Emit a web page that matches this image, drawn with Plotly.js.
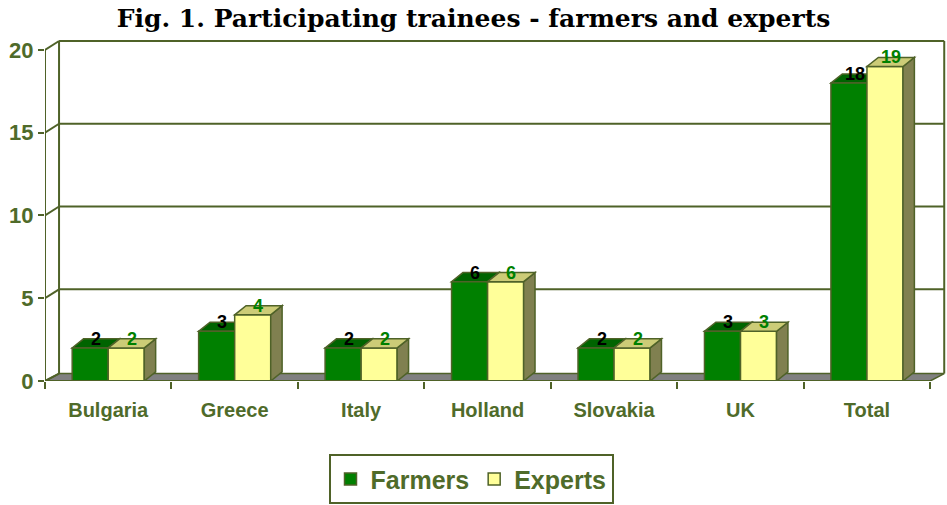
<!DOCTYPE html>
<html><head><meta charset="utf-8">
<script src="https://cdn.plot.ly/plotly-3.0.1.min.js"></script>
<style>html,body{margin:0;padding:0;background:#fff}</style>
</head><body><div id="chart" style="width:947px;height:505px"></div>
<script>
const categories = ['Bulgaria','Greece','Italy','Holland','Slovakia','UK','Total'];
const farmers = [2,3,2,6,2,3,18];
const experts = [2,4,2,6,2,3,19];
const seriesNames = ['Farmers','Experts'];
const yTicks = [0,5,10,15,20];

const OLIVE = '#4F6B2A';
const LINE = '#4F6228';
const SANS = 'Liberation Sans, Arial, sans-serif';
const idx = categories.map((c,i)=>i);
const n = categories.length;
const barW = 0.285;
const bDx = 0.09, bDy = 0.55;
const wDx = 0.111, wDy = 0.45;
const xMin = -0.5, xMax = n - 0.5;

const colors = {
  farmers: {front:'#008000', top:'#006400', side:'#005000', text:'#000000'},
  experts: {front:'#FFFF99', top:'#CCCC77', side:'#808050', text:'#008000'}
};

const traces = [
  {type:'bar', name:seriesNames[0], x:idx, y:farmers, marker:{color:colors.farmers.front, line:{color:LINE, width:1.5}}, hoverinfo:'skip'},
  {type:'bar', name:seriesNames[1], x:idx, y:experts, marker:{color:colors.experts.front, line:{color:LINE, width:1.5}}, hoverinfo:'skip'},
  {type:'scatter', x:[xMin, xMax], y:[0,0], mode:'lines', line:{width:0}, xaxis:'x2', showlegend:false, hoverinfo:'skip'}
];

const shapes = [];
shapes.push({type:'path', layer:'below', xref:'x', yref:'y',
  path:`M${xMin},0 L${xMax},0 L${xMax+wDx},${wDy} L${xMin+wDx},${wDy} Z`,
  fillcolor:'#808080', line:{color:LINE, width:1.5}});
yTicks.forEach(t=>{
  const d = t>0 ? 0.54 : wDy;
  if (t>0) shapes.push({type:'line', layer:'below', xref:'x', yref:'y', x0:xMin+wDx, x1:xMax+wDx, y0:t+d, y1:t+d, line:{color:LINE, width:2}});
  shapes.push({type:'line', layer:'below', xref:'x', yref:'y', x0:xMin, x1:xMin+wDx, y0:t, y1:t+d, line:{color:LINE, width:2}});
});
shapes.push({type:'line', layer:'below', xref:'x', yref:'y', x0:xMin+wDx, x1:xMin+wDx, y0:wDy, y1:20.54, line:{color:LINE, width:2}});
shapes.push({type:'line', layer:'below', xref:'x', yref:'y', x0:xMax+wDx, x1:xMax+wDx, y0:wDy, y1:20.54, line:{color:LINE, width:2}});
shapes.push({type:'line', layer:'above', xref:'x', yref:'y', x0:xMin, x1:xMin, y0:0, y1:20, line:{color:LINE, width:2}});
shapes.push({type:'line', layer:'above', xref:'x', yref:'y', x0:xMin, x1:xMax, y0:0, y1:0, line:{color:LINE, width:2}});

function addBox(x0, x1, v, c, layer){
  shapes.push({type:'path', layer:layer, xref:'x', yref:'y',
    path:`M${x1},0 L${x1+bDx},${bDy} L${x1+bDx},${v+bDy} L${x1},${v} Z`,
    fillcolor:c.side, line:{color:LINE, width:1.5}});
  shapes.push({type:'path', layer:layer, xref:'x', yref:'y',
    path:`M${x0},${v} L${x1},${v} L${x1+bDx},${v+bDy} L${x0+bDx},${v+bDy} Z`,
    fillcolor:c.top, line:{color:LINE, width:1.5}});
}
idx.forEach(i=>{
  addBox(i-barW, i, farmers[i], colors.farmers, 'below');
  addBox(i, i+barW, experts[i], colors.experts, 'above');
});

const annotations = [];
idx.forEach(i=>{
  annotations.push({xref:'x', yref:'y', x:i-barW/2+0.045, y:farmers[i]+0.55, text:String(farmers[i]), showarrow:false,
    font:{family:SANS, size:18, color:colors.farmers.text, weight:'bold'}, yanchor:'middle'});
  annotations.push({xref:'x', yref:'y', x:i+barW/2+0.045, y:experts[i]+0.55, text:String(experts[i]), showarrow:false,
    font:{family:SANS, size:18, color:colors.experts.text, weight:'bold'}, yanchor:'middle'});
});

const layout = {
  width:947, height:505,
  margin:{l:45, r:1, t:40, b:121},
  paper_bgcolor:'#fff', plot_bgcolor:'rgba(0,0,0,0)',
  title:{text:'Fig. 1. Participating trainees - farmers and experts', x:0.5, xref:'container', xanchor:'center',
    y:1-18/505, yref:'container', yanchor:'middle',
    font:{family:'DejaVu Serif, serif', size:25, color:'#000', weight:'bold'}},
  barmode:'group', bargap:0.43, bargroupgap:0,
  xaxis:{range:[xMin, xMax+0.125], tickvals:idx, ticktext:categories, ticks:'', showgrid:false, zeroline:false, showline:false,
    tickangle:0, automargin:false,
    tickfont:{family:SANS, size:20, color:OLIVE, weight:'bold'}, ticklabelstandoff:15, fixedrange:true},
  xaxis2:{range:[xMin, xMax+0.125], overlaying:'x', anchor:'y', side:'bottom', automargin:false,
    tickvals:Array.from({length:n+1},(_,k)=>k-0.5), ticks:'outside', ticklen:7, tickwidth:2, tickcolor:LINE,
    showticklabels:false, showgrid:false, zeroline:false, showline:false},
  yaxis:{range:[0, 20.6], tickvals:yTicks, ticks:'outside', ticklen:6, tickwidth:2, tickcolor:LINE,
    showgrid:false, zeroline:false, showline:false, automargin:false,
    tickfont:{family:SANS, size:22, color:OLIVE, weight:'bold'}},
  legend:{orientation:'h', x:(471-45)/901, xanchor:'center', xref:'paper', y:(384-458)/344, yanchor:'top',
    bordercolor:LINE, borderwidth:2, bgcolor:'#fff',
    font:{family:SANS, size:25, color:OLIVE, weight:'bold'}},
  shapes:shapes,
  annotations:annotations,
  showlegend:true
};

Plotly.newPlot('chart', traces, layout, {staticPlot:true, displayModeBar:false});
</script>
</body></html>
